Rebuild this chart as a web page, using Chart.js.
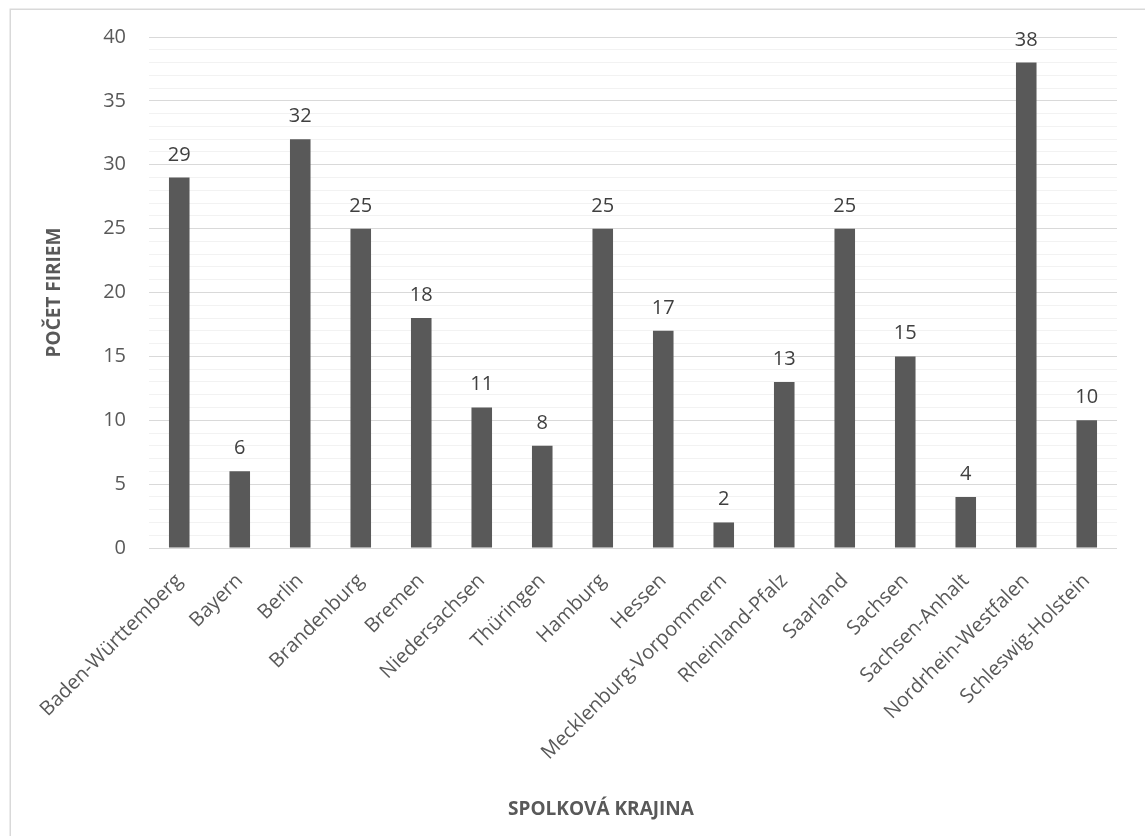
<!DOCTYPE html>
<html>
<head>
<meta charset="utf-8">
<script src="https://cdn.jsdelivr.net/npm/chart.js@4.4.1/dist/chart.umd.min.js"></script>
<style>
  html, body { margin: 0; padding: 0; background: #ffffff; }
  #wrap { width: 1145px; height: 836px; position: relative; }
  canvas { display: block; }
</style>
</head>
<body>
<div id="wrap"><canvas id="chart" width="1145" height="836"></canvas></div>
<script>
const categories = [
  'Baden-Württemberg', 'Bayern', 'Berlin', 'Brandenburg', 'Bremen',
  'Niedersachsen', 'Thüringen', 'Hamburg', 'Hessen', 'Mecklenburg-Vorpommern',
  'Rheinland-Pfalz', 'Saarland', 'Sachsen', 'Sachsen-Anhalt',
  'Nordrhein-Westfalen', 'Schleswig-Holstein'
];
const firmCounts = [29, 6, 32, 25, 18, 11, 8, 25, 17, 2, 13, 25, 15, 4, 38, 10];
const yMin = 0;
const yMax = 40;
const yMajorStep = 5;
const yMinorStep = 1;
const yAxisTitle = 'POČET FIRIEM';
const xAxisTitle = 'SPOLKOVÁ KRAJINA';

const FONT = '"Open Sans", Lato, "Liberation Sans", sans-serif';
const TEXT = '#595959';

const framePlugin = {
  id: 'frame',
  beforeDraw(chart) {
    const ctx = chart.ctx;
    ctx.save();
    ctx.fillStyle = '#ffffff';
    ctx.fillRect(0, 0, chart.width, chart.height);
    ctx.strokeStyle = '#d9d9d9';
    ctx.lineWidth = 1.5;
    ctx.strokeRect(10.25, 9.25, chart.width + 50, chart.height + 50);
    ctx.restore();
  }
};

const valueLabelPlugin = {
  id: 'valueLabels',
  afterDatasetsDraw(chart) {
    const ctx = chart.ctx;
    const meta = chart.getDatasetMeta(0);
    ctx.save();
    ctx.font = '20px ' + FONT;
    ctx.fillStyle = '#404040';
    ctx.textAlign = 'center';
    ctx.textBaseline = 'alphabetic';
    meta.data.forEach((bar, i) => {
      ctx.fillText(String(chart.data.datasets[0].data[i]), bar.x, bar.y - 17);
    });
    ctx.restore();
  }
};

const xTitlePlugin = {
  id: 'xTitle',
  afterDraw(chart) {
    const ctx = chart.ctx;
    ctx.save();
    ctx.font = 'bold 19px ' + FONT;
    ctx.fillStyle = TEXT;
    ctx.textAlign = 'center';
    ctx.textBaseline = 'middle';
    ctx.fillText(xAxisTitle, 601, 810);
    ctx.restore();
  }
};

new Chart(document.getElementById('chart'), {
  type: 'bar',
  data: {
    labels: categories,
    datasets: [{
      data: firmCounts,
      backgroundColor: '#595959',
      borderWidth: 0,
      categoryPercentage: 1,
      barPercentage: 0.34
    }]
  },
  options: {
    responsive: false,
    animation: false,
    devicePixelRatio: 1,
    layout: { padding: { left: 0, top: 37, right: 28, bottom: 0 } },
    plugins: { legend: { display: false }, tooltip: { enabled: false } },
    scales: {
      x: {
        grid: { display: false, drawTicks: false },
        border: { display: false },
        ticks: {
          autoSkip: false,
          minRotation: 45,
          maxRotation: 45,
          padding: 21,
          color: TEXT,
          font: { family: FONT, size: 20 }
        },
        afterFit(scale) { scale.height = 288; }
      },
      y: {
        min: yMin,
        max: yMax,
        grid: {
          drawTicks: false,
          color: (c) => (c.tick && c.tick.value % yMajorStep === 0) ? '#d9d9d9' : '#f2f2f2',
          lineWidth: 1
        },
        border: { display: false },
        ticks: {
          stepSize: yMinorStep,
          autoSkip: false,
          padding: 23,
          color: TEXT,
          font: { family: FONT, size: 20 },
          callback: (v) => (v % yMajorStep === 0 ? String(v) : '')
        },
        title: {
          display: true,
          text: yAxisTitle,
          color: TEXT,
          font: { family: FONT, size: 19, weight: 'bold' },
          padding: { top: 43, bottom: 0 }
        },
        afterFit(scale) { scale.width = 149; }
      }
    }
  },
  plugins: [framePlugin, valueLabelPlugin, xTitlePlugin]
});
</script>
</body>
</html>
